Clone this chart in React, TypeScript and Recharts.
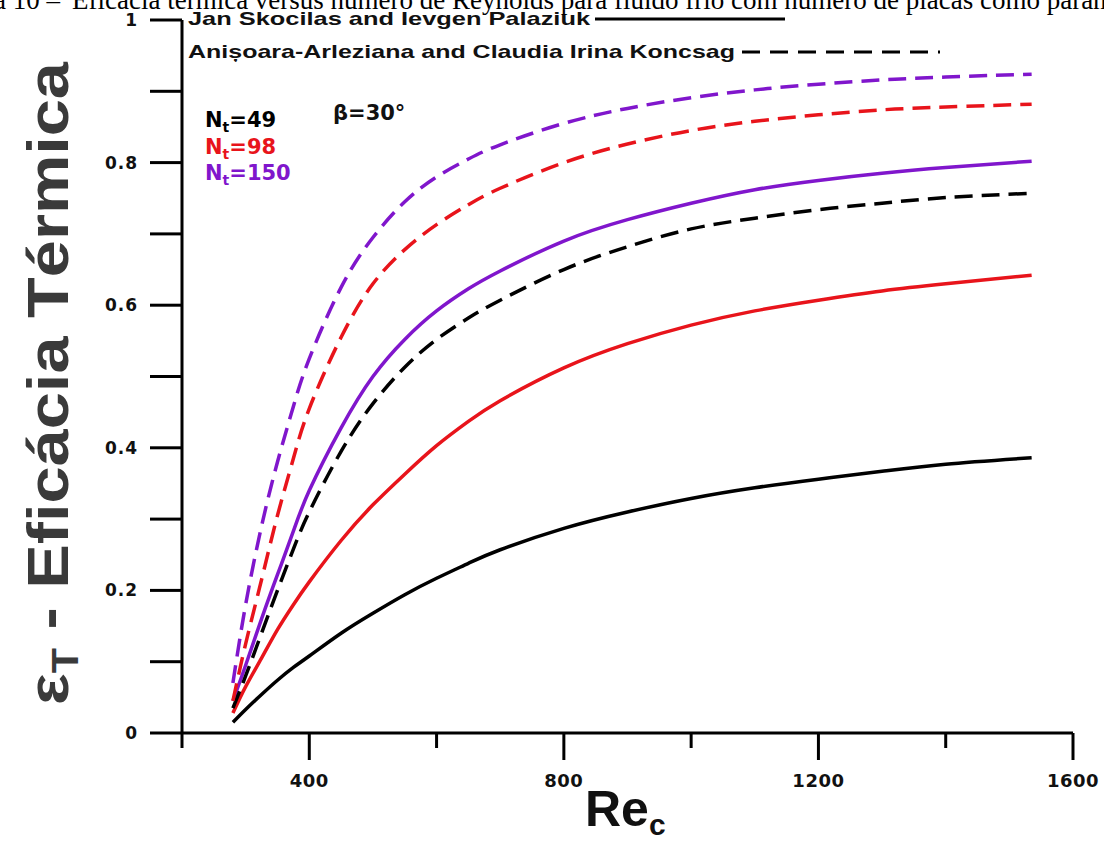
import React from 'react';
import { LineChart, Line, XAxis, YAxis } from 'recharts';

const reValues = [280, 300, 325, 350, 375, 400, 450, 500, 550, 600, 650, 700, 800, 900, 1000, 1100, 1200, 1300, 1400, 1535];
const skocilasNt49 = [0.015, 0.033, 0.054, 0.074, 0.092, 0.108, 0.14, 0.168, 0.194, 0.217, 0.238, 0.257, 0.287, 0.31, 0.329, 0.344, 0.356, 0.367, 0.377, 0.386];
const skocilasNt98 = [0.028, 0.065, 0.105, 0.145, 0.18, 0.212, 0.27, 0.32, 0.363, 0.403, 0.437, 0.466, 0.512, 0.546, 0.572, 0.592, 0.607, 0.62, 0.63, 0.642];
const skocilasNt150 = [0.045, 0.095, 0.16, 0.222, 0.283, 0.34, 0.428, 0.5, 0.552, 0.592, 0.623, 0.648, 0.69, 0.72, 0.743, 0.762, 0.775, 0.785, 0.793, 0.802];
const koncsagNt49 = [0.035, 0.08, 0.14, 0.2, 0.258, 0.31, 0.395, 0.462, 0.513, 0.552, 0.582, 0.607, 0.65, 0.682, 0.707, 0.722, 0.734, 0.743, 0.751, 0.757];
const koncsagNt98 = [0.045, 0.125, 0.215, 0.305, 0.385, 0.455, 0.555, 0.63, 0.678, 0.713, 0.741, 0.764, 0.8, 0.826, 0.845, 0.858, 0.867, 0.874, 0.878, 0.882];
const koncsagNt150 = [0.07, 0.18, 0.29, 0.38, 0.458, 0.525, 0.625, 0.695, 0.745, 0.78, 0.805, 0.825, 0.855, 0.876, 0.891, 0.902, 0.91, 0.916, 0.92, 0.924];

const xTicks = [200, 400, 600, 800, 1000, 1200, 1400, 1600];
const xLabeledTicks = [400, 800, 1200, 1600];
const yTicks = [0, 0.1, 0.2, 0.3, 0.4, 0.5, 0.6, 0.7, 0.8, 0.9, 1];
const yLabeledTicks = [0, 0.2, 0.4, 0.6, 0.8, 1];

const captionPrefix = 'Figura 10 –';
const captionText = 'Eficácia térmica versus número de Reynolds para fluido frio com número de placas como parâmetro';
const legendSolid = 'Jan Skocilas and Ievgen Palaziuk';
const legendDashed = 'Anișoara-Arleziana and Claudia Irina Koncsag';
const ntLabels = ['49', '98', '150'];

const BLACK = '#000000';
const RED = '#e8141b';
const PURPLE = '#8016cc';

const data = reValues.map((re, i) => ({
  re,
  s49: skocilasNt49[i],
  s98: skocilasNt98[i],
  s150: skocilasNt150[i],
  k49: koncsagNt49[i],
  k98: koncsagNt98[i],
  k150: koncsagNt150[i],
}));

const tickFont = 'DejaVu Sans, sans-serif';

const XTick = (props: any) => {
  const { x, y, payload } = props;
  const major = xLabeledTicks.includes(payload.value);
  return (
    <g>
      <line x1={x} y1={y} x2={x} y2={y + (major ? 27 : 15)} stroke="#000" strokeWidth={3} />
      {major && (
        <text x={x} y={y + 54} textAnchor="middle" fontFamily={tickFont} fontWeight="bold" fontSize={18} fill="#111" letterSpacing={0.5}>
          {payload.value}
        </text>
      )}
    </g>
  );
};

const YTick = (props: any) => {
  const { x, y, payload } = props;
  const v = payload.value;
  const labeled = yLabeledTicks.some((t) => Math.abs(t - v) < 1e-6);
  const label = v === 0 ? '0' : Math.abs(v - 1) < 1e-6 ? '1' : v.toFixed(1);
  return (
    <g>
      <line x1={x - 32} y1={y} x2={x} y2={y} stroke="#000" strokeWidth={3} />
      {labeled && (
        <text x={x - 44} y={y + 6} textAnchor="end" fontFamily={tickFont} fontWeight="bold" fontSize={17} fill="#111" letterSpacing={1}>
          {label}
        </text>
      )}
    </g>
  );
};

export default function App() {
  const ntColors = [BLACK, RED, PURPLE];
  return (
    <div style={{ position: 'absolute', left: 0, top: 0, width: 1104, height: 843, background: '#fff' }}>
      <LineChart width={1104} height={843} data={data} margin={{ top: 20, right: 31, left: 122, bottom: 50 }}>
        <XAxis
          dataKey="re"
          type="number"
          domain={[200, 1600]}
          ticks={xTicks}
          interval={0}
          tickSize={0}
          tickMargin={0}
          tickLine={false}
          axisLine={{ stroke: '#000', strokeWidth: 3 }}
          tick={<XTick />}
          height={60}
        />
        <YAxis
          type="number"
          domain={[0, 1]}
          ticks={yTicks}
          interval={0}
          tickSize={0}
          tickMargin={0}
          tickLine={false}
          axisLine={{ stroke: '#000', strokeWidth: 3 }}
          tick={<YTick />}
          width={60}
        />
        <Line type="natural" dataKey="s49" stroke={BLACK} strokeWidth={3.5} dot={false} isAnimationActive={false} />
        <Line type="natural" dataKey="s98" stroke={RED} strokeWidth={3.5} dot={false} isAnimationActive={false} />
        <Line type="natural" dataKey="s150" stroke={PURPLE} strokeWidth={3.5} dot={false} isAnimationActive={false} />
        <Line type="natural" dataKey="k49" stroke={BLACK} strokeWidth={3.5} strokeDasharray="18 9" dot={false} isAnimationActive={false} />
        <Line type="natural" dataKey="k98" stroke={RED} strokeWidth={3.5} strokeDasharray="18 9" dot={false} isAnimationActive={false} />
        <Line type="natural" dataKey="k150" stroke={PURPLE} strokeWidth={3.5} strokeDasharray="18 9" dot={false} isAnimationActive={false} />
      </LineChart>
      <svg width={1104} height={843} style={{ position: 'absolute', left: 0, top: 0, pointerEvents: 'none', overflow: 'hidden' }}>
        <text x={60} y={9} textAnchor="end" fontFamily="Liberation Serif, Times New Roman, serif" fontSize={27} fill="#000">
          {captionPrefix}
        </text>
        <text x={72} y={9} fontFamily="Liberation Serif, Times New Roman, serif" fontSize={27} fill="#000">
          {captionText}
        </text>

        <text x={188} y={25} fontFamily="Liberation Sans, Arial, sans-serif" fontWeight="bold" fontSize={19} fill="#111" textLength={402} lengthAdjust="spacingAndGlyphs">
          {legendSolid}
        </text>
        <line x1={595} y1={19} x2={785} y2={19} stroke="#000" strokeWidth={3} />
        <text x={188} y={58} fontFamily="Liberation Sans, Arial, sans-serif" fontWeight="bold" fontSize={19} fill="#111" textLength={547} lengthAdjust="spacingAndGlyphs">
          {legendDashed}
        </text>
        <line x1={742} y1={52} x2={940} y2={52} stroke="#000" strokeWidth={3} strokeDasharray="18 10" />

        {ntLabels.map((n, i) => (
          <text key={n} x={205} y={127 + i * 26.5} fontFamily={tickFont} fontWeight="bold" fontSize={21} fill={ntColors[i]}>
            N<tspan fontSize={14} dy={5}>t</tspan>
            <tspan dy={-5}>={n}</tspan>
          </text>
        ))}
        <text x={333} y={120} fontFamily={tickFont} fontWeight="bold" fontSize={21} fill="#111">
          β=30°
        </text>

        <text
          x={68}
          y={705}
          transform="rotate(-90, 68, 705)"
          fontFamily="Liberation Sans, Arial, sans-serif"
          fontWeight="bold"
          fontSize={58}
          fill="#3a3a3a"
          textLength={643}
          lengthAdjust="spacingAndGlyphs"
        >
          ε<tspan fontSize={36} dy={10}>T</tspan>
          <tspan dy={-10}> - Eficácia Térmica</tspan>
        </text>

        <text x={585} y={826} fontFamily="Liberation Sans, Arial, sans-serif" fontWeight="bold" fontSize={50} fill="#111">
          Re<tspan fontSize={30} dy={9}>c</tspan>
        </text>
      </svg>
    </div>
  );
}
